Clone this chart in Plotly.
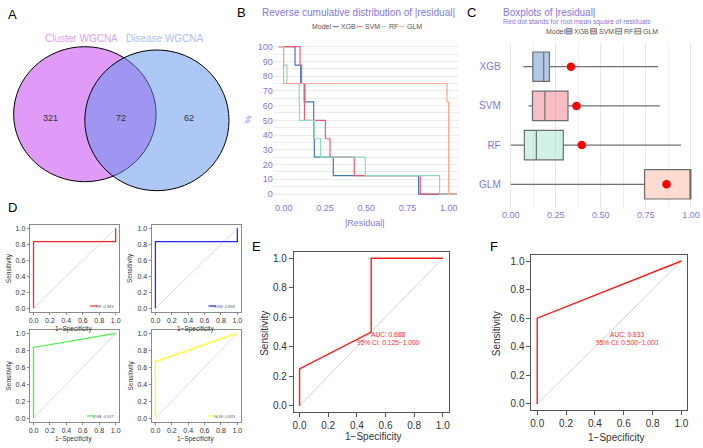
import numpy as np
import plotly.graph_objects as go

W, H = 703, 448

# ---------------- data ----------------
venn_sets = ["Cluster WGCNA", "Disease WGCNA"]
venn_counts = [321, 72, 62]          # left only, shared, right only

models = ["XGB", "SVM", "RF", "GLM"]
resid_xgb = [0.069, 0.103, 0.129, 0.182, 0.184, 0.186, 0.301, 0.818]
resid_svm = [0.099, 0.109, 0.124, 0.126, 0.253, 0.281, 0.428, 0.828]
resid_rf = [0.000, 0.020, 0.094, 0.096, 0.188, 0.224, 0.495, 0.945]
resid_glm = [0.000, 0.000, 0.990, 1.000, 1.000, 1.000, 1.000, 1.000]
model_colors = ["#4378bf", "#f05a71", "#8bdcbe", "#ffa58c"]

d_models = ["RF", "SVM", "XGB", "GLM"]
d_auc = [0.833, 0.833, 0.917, 0.833]
rf_fpr = [0, 0, 1, 1]
rf_tpr = [0, 0.833, 0.833, 1]
svm_fpr = [0, 0, 1, 1]
svm_tpr = [0, 0.833, 0.833, 1]
xgb_fpr = [0, 0, 1]
xgb_tpr = [0, 0.833, 1]
glm_fpr = [0, 0, 1]
glm_tpr = [0, 0.667, 1]
d_colors = ["#FF2626", "#2626FF", "#4CF04C", "#FFFF26"]

e_fpr = [0, 0, 0.5, 0.5, 1]
e_tpr = [0, 0.25, 0.5, 1, 1]
e_auc = 0.688
e_ci = [0.125, 1.000]

f_fpr = [0, 0, 1]
f_tpr = [0, 0.6, 1]
f_auc = 0.833
f_ci = [0.500, 1.000]

roc_ticks = [0, 0.2, 0.4, 0.6, 0.8, 1.0]
resid_ticks = [0, 0.25, 0.5, 0.75, 1.0]
pct_ticks = list(range(0, 101, 10))

# ---------------- helpers ----------------
FONT = "Liberation Sans"
LAV = "#8479D9"
DARK = "#333333"


def px(x):
    return x / W


def py(y):
    return 1 - y / H


def xdom(a, b):
    return [a / W, b / W]


def ydom(top, bottom):
    return [1 - bottom / H, 1 - top / H]


CW = {c: 0.556 for c in "0123456789"}
CW.update({".": 0.278, ":": 0.278, " ": 0.278, "R": 0.722, "F": 0.611, "S": 0.667,
           "V": 0.667, "M": 0.833, "X": 0.667, "G": 0.778, "B": 0.667, "L": 0.556})


def tw(s, size):
    return sum(CW.get(c, 0.55) for c in s) * size


def rgba(hexc, a):
    h = hexc.lstrip("#")
    r, g, b = int(h[0:2], 16), int(h[2:4], 16), int(h[4:6], 16)
    return f"rgba({r},{g},{b},{a})"


fig = go.Figure()
annotations = []
shapes = []


def ann(x, y, text, size, color=DARK, xanchor="center", yanchor="middle", angle=0, xref="paper", yref="paper"):
    if xref == "paper":
        x = px(x)
    if yref == "paper":
        y = py(y)
    annotations.append(dict(x=x, y=y, xref=xref, yref=yref, text=text, showarrow=False,
                            font=dict(size=size, color=color, family=FONT),
                            xanchor=xanchor, yanchor=yanchor, textangle=angle))


# ---------------- panel A: Venn ----------------
shapes.append(dict(type="circle", xref="paper", yref="paper",
                   x0=px(11.7), x1=px(155), y0=py(181.7), y1=py(46.7),
                   fillcolor="rgba(193,55,241,0.5)", line=dict(color="black", width=1), layer="below"))
shapes.append(dict(type="circle", xref="paper", yref="paper",
                   x0=px(83.3), x1=px(228.3), y0=py(190.7), y1=py(50),
                   fillcolor="rgba(91,145,233,0.5)", line=dict(color="black", width=1), layer="below"))
ann(80, 38.5, venn_sets[0], 10, color="#DDA0F5")
ann(163.5, 38.5, venn_sets[1], 10, color="#A9C2F2")
ann(48.3, 118.3, str(venn_counts[0]), 9)
ann(119.3, 118.3, str(venn_counts[1]), 9)
ann(188, 118.3, str(venn_counts[2]), 9)

# ---------------- panel B: reverse ECDF ----------------
resids = [resid_xgb, resid_svm, resid_rf, resid_glm]
for m, r, c in zip(models, resids, model_colors):
    rs = np.sort(np.array(r))
    n = len(rs)
    xs = [-0.03] + list(rs) + [1.05]
    ys = [100.0] + [100.0 * (1 - (i + 1) / n) for i in range(n)] + [0.0]
    fig.add_trace(go.Scatter(x=xs, y=ys, mode="lines", line=dict(color=c, width=1.2, shape="hv"),
                             xaxis="x", yaxis="y", showlegend=False, hoverinfo="skip"))

ann(259.5, 12.5, "Reverse cumulative distribution of |residual|", 10, color=LAV, xanchor="left")
ann(365, 222.5, "|Residual|", 9, color=LAV)
ann(247, 120, "%", 9, color=LAV, angle=-90)

# B legend
lx = 310
ann(lx, 26.7, "Model", 7, color="#555555", xanchor="left")
lx += tw("Model", 7) + 1.5
for m, c in zip(models, model_colors):
    shapes.append(dict(type="line", xref="paper", yref="paper", x0=px(lx), x1=px(lx + 6),
                       y0=py(26.7), y1=py(26.7), line=dict(color=c, width=1)))
    lx += 6.5
    ann(lx, 26.7, m, 7, color="#555555", xanchor="left")
    lx += tw(m, 7) + 2.5

# ---------------- panel C: boxplots ----------------
for m, r, c in zip(models, resids, model_colors):
    arr = np.array(r)
    q1, med, q3 = np.percentile(arr, [25, 50, 75])
    fig.add_trace(go.Box(y=[m], q1=[q1], median=[med], q3=[q3], lowerfence=[arr.min()],
                         upperfence=[arr.max()], orientation="h", fillcolor=rgba(c, 0.4),
                         line=dict(color="#6e6e6e", width=1.2), width=0.75, whiskerwidth=0,
                         boxpoints=False, xaxis="x2", yaxis="y2", showlegend=False, hoverinfo="skip"))
rmse = [float(np.sqrt(np.mean(np.square(np.array(r))))) for r in resids]
fig.add_trace(go.Scatter(x=rmse, y=models, mode="markers", marker=dict(color="red", size=8.5),
                         xaxis="x2", yaxis="y2", showlegend=False, hoverinfo="skip"))

ann(502.3, 12.5, "Boxplots of |residual|", 10, color=LAV, xanchor="left")
ann(502.3, 22, "Red dot stands for root mean square of residuals", 6.8, color=LAV, xanchor="left")

# C legend
lx = 545
ann(lx, 31.3, "Model", 7, color="#555555", xanchor="left")
lx += tw("Model", 7) + 1
for m, c in zip(models, model_colors):
    shapes.append(dict(type="rect", xref="paper", yref="paper", x0=px(lx), x1=px(lx + 6),
                       y0=py(34), y1=py(28.6), fillcolor=rgba(c, 0.4), line=dict(color="#6e6e6e", width=0.8)))
    shapes.append(dict(type="line", xref="paper", yref="paper", x0=px(lx), x1=px(lx + 6),
                       y0=py(31.3), y1=py(31.3), line=dict(color="#6e6e6e", width=0.8)))
    lx += 6.5
    ann(lx, 31.3, m, 7, color="#555555", xanchor="left")
    lx += tw(m, 7) + 3.5

# ---------------- panel D: four small ROC ----------------
d_fprs = [rf_fpr, svm_fpr, xgb_fpr, glm_fpr]
d_tprs = [rf_tpr, svm_tpr, xgb_tpr, glm_tpr]
d_axes = [("x3", "y3"), ("x4", "y4"), ("x5", "y5"), ("x6", "y6")]
d_boxes = [(28.4, 117.6, 225.1, 311.5), (151.0, 240.0, 225.1, 311.5),
           (28.4, 117.6, 329.9, 421.5), (151.0, 240.0, 329.9, 421.5)]
for i in range(4):
    xa, ya = d_axes[i]
    fig.add_trace(go.Scatter(x=[0, 1], y=[0, 1], mode="lines", line=dict(color="#CFCFCF", width=0.8),
                             xaxis=xa, yaxis=ya, showlegend=False, hoverinfo="skip"))
    fig.add_trace(go.Scatter(x=d_fprs[i], y=d_tprs[i], mode="lines", line=dict(color=d_colors[i], width=1.3),
                             xaxis=xa, yaxis=ya, showlegend=False, hoverinfo="skip"))
    x0, x1, y0, y1 = d_boxes[i]
    lab = f"{d_models[i]}: {d_auc[i]:.3f}"
    ly = y1 - 5.5
    tr = x1 - 2.5
    ann(tr, ly, lab, 4, color="#555555", xanchor="right")
    tl = tr - tw(lab, 4) - 1.5
    shapes.append(dict(type="line", xref="paper", yref="paper", x0=px(tl - 7.5), x1=px(tl),
                       y0=py(ly), y1=py(ly), line=dict(color=d_colors[i], width=1.2)))
    ann((x0 + x1) / 2 - 1, y1 + 17.8, "1−Specificity", 6.5)
    ann(x0 - 21.5, (y0 + y1) / 2, "Sensitivity", 6.5, angle=-90)

# ---------------- panels E & F ----------------
for xa, ya, fx, fy, auc, ci in [("x7", "y7", e_fpr, e_tpr, e_auc, e_ci), ("x8", "y8", f_fpr, f_tpr, f_auc, f_ci)]:
    fig.add_trace(go.Scatter(x=[0, 1], y=[0, 1], mode="lines", line=dict(color="#C8C8C8", width=0.8),
                             xaxis=xa, yaxis=ya, showlegend=False, hoverinfo="skip"))
    fig.add_trace(go.Scatter(x=fx, y=fy, mode="lines", line=dict(color="#FF1A1A", width=1.4),
                             xaxis=xa, yaxis=ya, showlegend=False, hoverinfo="skip"))
    annotations.append(dict(x=0.62, y=0.483, xref=xa, yref=ya, text=f"AUC: {auc:.3f}", showarrow=False,
                            font=dict(size=6.6, color="#FF2A2A", family=FONT)))
    annotations.append(dict(x=0.62, y=0.428, xref=xa, yref=ya, text=f"95% CI: {ci[0]:.3f}−{ci[1]:.3f}",
                            showarrow=False, font=dict(size=6.6, color="#FF2A2A", family=FONT)))

ann(373.3, 436.7, "1−Specificity", 10)
ann(263.3, 333, "Sensitivity", 10, angle=-90)
ann(617.7, 437.7, "1−Specificity", 10)
ann(496.7, 333.3, "Sensitivity", 10, angle=-90)

# panel letters
for t, x, y in [("A", 11, 14), ("B", 241, 12.5), ("C", 472.5, 12.5), ("D", 10.5, 207.5),
                ("E", 256, 246.7), ("F", 495, 246.3)]:
    ann(x, y, t, 13, color="black")

# ---------------- axes ----------------
layout_axes = {}
layout_axes["xaxis"] = dict(domain=xdom(273.3, 460), range=[-0.06, 1.065], tickvals=resid_ticks,
                            ticktext=[f"{v:.2f}" for v in resid_ticks], showgrid=False, zeroline=False,
                            tickfont=dict(size=9, color=LAV), ticks="", anchor="y", fixedrange=True)
layout_axes["yaxis"] = dict(domain=ydom(39.3, 201.4), range=[-5, 105], tickvals=pct_ticks,
                            showgrid=True, gridcolor="#ECECEC", gridwidth=1, zeroline=False,
                            minor=dict(dtick=5, tick0=5, showgrid=True, gridcolor="#ECECEC", gridwidth=1),
                            tickfont=dict(size=9, color=LAV), ticks="", anchor="x")
layout_axes["xaxis2"] = dict(domain=xdom(502.6, 703), range=[-0.05, 1.056], tickvals=resid_ticks,
                             ticktext=[f"{v:.2f}" for v in resid_ticks], showgrid=True, gridcolor="#E8E8E8",
                             minor=dict(dtick=0.125, tick0=0.125, showgrid=True, gridcolor="#EFEFEF"),
                             zeroline=False, tickfont=dict(size=9, color=LAV), ticks="", anchor="y2")
layout_axes["yaxis2"] = dict(domain=ydom(43.2, 207.8), type="category", categoryorder="array",
                             categoryarray=["GLM", "RF", "SVM", "XGB"], range=[-0.6, 3.6],
                             showgrid=False, zeroline=False, tickfont=dict(size=10, color=LAV),
                             ticks="", anchor="x2")

for i, (xa, ya) in enumerate(d_axes):
    x0, x1, y0, y1 = d_boxes[i]
    xn = "xaxis" + xa[1:]
    yn = "yaxis" + ya[1:]
    layout_axes[xn] = dict(domain=xdom(x0, x1), range=[-0.04, 1.04], tickvals=roc_ticks,
                           ticktext=[f"{v:.1f}" for v in roc_ticks], showgrid=False, zeroline=False,
                           showline=True, mirror=True, linecolor="#8a8a8a", linewidth=1,
                           ticks="outside", ticklen=2.5, tickcolor="#8a8a8a",
                           tickfont=dict(size=7, color=DARK), anchor=ya)
    layout_axes[yn] = dict(domain=ydom(y0, y1), range=[-0.04, 1.04], tickvals=roc_ticks,
                           ticktext=[f"{v:.1f}" for v in roc_ticks], showgrid=False, zeroline=False,
                           showline=True, mirror=True, linecolor="#8a8a8a", linewidth=1,
                           ticks="outside", ticklen=2.5, tickcolor="#8a8a8a",
                           tickfont=dict(size=7, color=DARK), anchor=xa)

for xa, ya, box in [("x7", "y7", (293.5, 449.1, 252.4, 411.6)), ("x8", "y8", (532.5, 689.1, 255.3, 409.7))]:
    x0, x1, y0, y1 = box
    layout_axes["xaxis" + xa[1:]] = dict(domain=xdom(x0, x1), range=[-0.04, 1.04], tickvals=roc_ticks,
                                         ticktext=[f"{v:.1f}" for v in roc_ticks], showgrid=False,
                                         zeroline=False, showline=True, mirror=True, linecolor="#555555",
                                         linewidth=1, ticks="outside", ticklen=4, tickcolor="#555555",
                                         tickfont=dict(size=10, color=DARK), anchor=ya)
    layout_axes["yaxis" + ya[1:]] = dict(domain=ydom(y0, y1), range=[-0.04, 1.04], tickvals=roc_ticks,
                                         ticktext=[f"{v:.1f}" for v in roc_ticks], showgrid=False,
                                         zeroline=False, showline=True, mirror=True, linecolor="#555555",
                                         linewidth=1, ticks="outside", ticklen=4, tickcolor="#555555",
                                         tickfont=dict(size=10, color=DARK), anchor=xa)

fig.update_layout(width=W, height=H, margin=dict(l=0, r=0, t=0, b=0), paper_bgcolor="white",
                  plot_bgcolor="rgba(0,0,0,0)", showlegend=False, boxmode="overlay",
                  font=dict(family=FONT, color=DARK), annotations=annotations, shapes=shapes,
                  **layout_axes)

fig.write_html("out.html", config={"displayModeBar": False},
               post_script="document.body.style.margin='0';document.body.style.padding='0';")
